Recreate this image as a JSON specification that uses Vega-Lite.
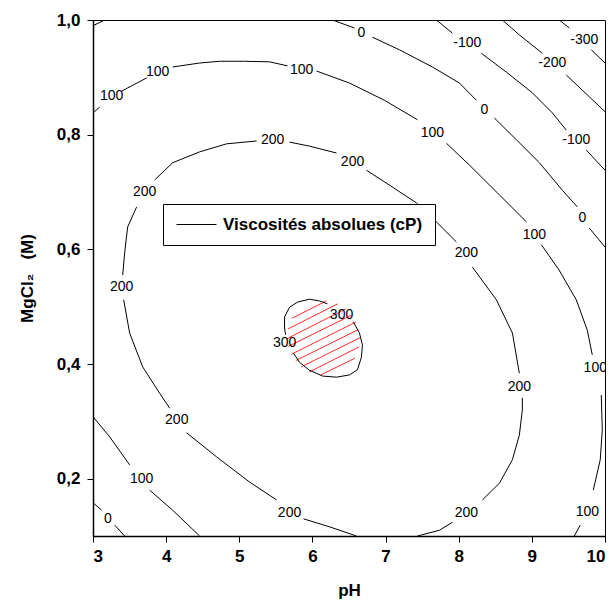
{
  "$schema": "https://vega.github.io/schema/vega-lite/v6.json",
  "width": 512,
  "height": 516,
  "autosize": {"type": "none"},
  "padding": {"left": 93, "top": 20, "right": 9, "bottom": 65},
  "background": "white",
  "config": {
    "font": "Liberation Sans",
    "view": {"stroke": "black", "strokeWidth": 1},
    "axis": {"domainColor": "black", "domainWidth": 1.5, "tickColor": "black", "labelColor": "black", "titleColor": "black", "grid": false, "tickSize": 6, "labelFontSize": 17, "labelFontWeight": "bold", "titleFontSize": 17, "titleFontWeight": "bold"}
  },
  "datasets": {
    "lines": [
      {"s":"c0","pH":3.0,"M":0.990},{"s":"c0","pH":3.160,"M":1.0},
      {"s":"a1","pH":3.0,"M":0.838},{"s":"a1","pH":3.092,"M":0.848},
      {"s":"a2","pH":3.392,"M":0.876},{"s":"a2","pH":3.734,"M":0.899},
      {"s":"a3","pH":4.089,"M":0.918},{"s":"a3","pH":4.458,"M":0.925},{"s":"a3","pH":4.731,"M":0.928},{"s":"a3","pH":5.072,"M":0.928},{"s":"a3","pH":5.414,"M":0.927},{"s":"a3","pH":5.660,"M":0.920},
      {"s":"a4","pH":6.056,"M":0.911},{"s":"a4","pH":6.507,"M":0.890},{"s":"a4","pH":6.985,"M":0.860},{"s":"a4","pH":7.436,"M":0.826},
      {"s":"a5","pH":7.832,"M":0.785},{"s":"a5","pH":8.146,"M":0.747},{"s":"a5","pH":8.556,"M":0.695},{"s":"a5","pH":8.925,"M":0.648},
      {"s":"a6","pH":9.130,"M":0.608},{"s":"a6","pH":9.372,"M":0.564},{"s":"a6","pH":9.607,"M":0.512},{"s":"a6","pH":9.758,"M":0.459},{"s":"a6","pH":9.826,"M":0.416},
      {"s":"a7","pH":9.949,"M":0.346},{"s":"a7","pH":9.963,"M":0.285},{"s":"a7","pH":9.935,"M":0.233},{"s":"a7","pH":9.840,"M":0.180},
      {"s":"a8","pH":9.662,"M":0.119},{"s":"a8","pH":9.580,"M":0.100},
      {"s":"b1","pH":7.436,"M":0.100},{"s":"b1","pH":7.736,"M":0.110},{"s":"b1","pH":7.914,"M":0.124},
      {"s":"b2","pH":8.324,"M":0.163},{"s":"b2","pH":8.556,"M":0.192},{"s":"b2","pH":8.734,"M":0.233},{"s":"b2","pH":8.829,"M":0.276},{"s":"b2","pH":8.870,"M":0.320},{"s":"b2","pH":8.870,"M":0.341},
      {"s":"b3","pH":8.829,"M":0.384},{"s":"b3","pH":8.734,"M":0.454},{"s":"b3","pH":8.515,"M":0.512},{"s":"b3","pH":8.187,"M":0.569},
      {"s":"b4","pH":7.968,"M":0.613},{"s":"b4","pH":7.709,"M":0.646},{"s":"b4","pH":7.422,"M":0.681},{"s":"b4","pH":7.053,"M":0.712},{"s":"b4","pH":6.739,"M":0.738},
      {"s":"b5","pH":6.329,"M":0.768},{"s":"b5","pH":5.960,"M":0.780},{"s":"b5","pH":5.687,"M":0.787},
      {"s":"b6","pH":5.236,"M":0.789},{"s":"b6","pH":4.826,"M":0.784},{"s":"b6","pH":4.458,"M":0.770},{"s":"b6","pH":4.089,"M":0.751},{"s":"b6","pH":3.843,"M":0.721},
      {"s":"b7","pH":3.597,"M":0.674},{"s":"b7","pH":3.474,"M":0.639},{"s":"b7","pH":3.433,"M":0.594},{"s":"b7","pH":3.406,"M":0.555},
      {"s":"b8","pH":3.419,"M":0.512},{"s":"b8","pH":3.501,"M":0.454},{"s":"b8","pH":3.679,"M":0.395},{"s":"b8","pH":3.911,"M":0.349},{"s":"b8","pH":4.048,"M":0.323},
      {"s":"b9","pH":4.280,"M":0.280},{"s":"b9","pH":4.690,"M":0.238},{"s":"b9","pH":5.141,"M":0.194},{"s":"b9","pH":5.510,"M":0.163},
      {"s":"b10","pH":5.878,"M":0.130},{"s":"b10","pH":6.234,"M":0.116},{"s":"b10","pH":6.602,"M":0.100},
      {"s":"d1","pH":3.0,"M":0.308},{"s":"d1","pH":3.228,"M":0.273},{"s":"d1","pH":3.501,"M":0.224},
      {"s":"d2","pH":3.775,"M":0.180},{"s":"d2","pH":4.089,"M":0.145},{"s":"d2","pH":4.458,"M":0.100},
      {"s":"e1","pH":3.0,"M":0.158},{"s":"e1","pH":3.119,"M":0.145},
      {"s":"e2","pH":3.296,"M":0.119},{"s":"e2","pH":3.433,"M":0.100},
      {"s":"f1","pH":6.275,"M":1.0},{"s":"f1","pH":6.575,"M":0.986},
      {"s":"f2","pH":6.821,"M":0.970},{"s":"f2","pH":7.190,"M":0.948},{"s":"f2","pH":7.641,"M":0.918},{"s":"f2","pH":8.010,"M":0.890},{"s":"f2","pH":8.242,"M":0.860},
      {"s":"f3","pH":8.488,"M":0.829},{"s":"f3","pH":8.789,"M":0.791},{"s":"f3","pH":9.103,"M":0.751},{"s":"f3","pH":9.417,"M":0.703},{"s":"f3","pH":9.622,"M":0.674},
      {"s":"f4","pH":9.786,"M":0.637},{"s":"f4","pH":10.0,"M":0.604},
      {"s":"g1","pH":7.695,"M":1.0},{"s":"g1","pH":7.914,"M":0.977},
      {"s":"g2","pH":8.310,"M":0.942},{"s":"g2","pH":8.652,"M":0.909},{"s":"g2","pH":9.007,"M":0.873},{"s":"g2","pH":9.280,"M":0.838},{"s":"g2","pH":9.471,"M":0.808},
      {"s":"g3","pH":9.745,"M":0.773},{"s":"g3","pH":10.0,"M":0.738},
      {"s":"h1","pH":8.597,"M":1.0},{"s":"h1","pH":8.829,"M":0.974},{"s":"h1","pH":9.143,"M":0.942},
      {"s":"h2","pH":9.471,"M":0.904},{"s":"h2","pH":9.786,"M":0.866},{"s":"h2","pH":10.0,"M":0.840},
      {"s":"k1","pH":9.375,"M":1.0},{"s":"k1","pH":9.512,"M":0.986},
      {"s":"k2","pH":9.813,"M":0.948},{"s":"k2","pH":10.0,"M":0.925},
      {"s":"m1","pH":5.633,"M":0.451},{"s":"m1","pH":5.619,"M":0.463},{"s":"m1","pH":5.619,"M":0.482},{"s":"m1","pH":5.687,"M":0.499},{"s":"m1","pH":5.796,"M":0.508},{"s":"m1","pH":5.960,"M":0.513},{"s":"m1","pH":6.097,"M":0.510},{"s":"m1","pH":6.206,"M":0.505},
      {"s":"m2","pH":6.561,"M":0.473},{"s":"m2","pH":6.643,"M":0.454},{"s":"m2","pH":6.684,"M":0.433},{"s":"m2","pH":6.670,"M":0.412},{"s":"m2","pH":6.616,"M":0.390},{"s":"m2","pH":6.507,"M":0.381},{"s":"m2","pH":6.329,"M":0.377},{"s":"m2","pH":6.138,"M":0.379},{"s":"m2","pH":5.960,"M":0.389},{"s":"m2","pH":5.823,"M":0.403},{"s":"m2","pH":5.741,"M":0.419}
    ],
    "hatch": [
      {"s":"1","pH":5.724,"M":0.480},{"s":"1","pH":6.189,"M":0.510},
      {"s":"2","pH":5.664,"M":0.461},{"s":"2","pH":6.347,"M":0.505},
      {"s":"3","pH":5.650,"M":0.444},{"s":"3","pH":6.456,"M":0.496},
      {"s":"4","pH":5.675,"M":0.431},{"s":"4","pH":6.530,"M":0.485},
      {"s":"5","pH":5.712,"M":0.417},{"s":"5","pH":6.592,"M":0.473},
      {"s":"6","pH":5.773,"M":0.406},{"s":"6","pH":6.628,"M":0.460},
      {"s":"7","pH":5.847,"M":0.395},{"s":"7","pH":6.653,"M":0.446},
      {"s":"8","pH":5.956,"M":0.386},{"s":"8","pH":6.639,"M":0.430},
      {"s":"9","pH":6.115,"M":0.381},{"s":"9","pH":6.579,"M":0.410}
    ],
    "labels": [
      {"t":"100","pH":3.255,"M":0.867},{"t":"100","pH":3.884,"M":0.909},{"t":"100","pH":5.852,"M":0.913},{"t":"100","pH":7.641,"M":0.803},{"t":"100","pH":9.034,"M":0.625},{"t":"100","pH":9.867,"M":0.393},{"t":"100","pH":9.758,"M":0.142},{"t":"100","pH":3.666,"M":0.199},
      {"t":"200","pH":8.105,"M":0.140},{"t":"200","pH":8.829,"M":0.360},{"t":"200","pH":8.105,"M":0.594},{"t":"200","pH":6.548,"M":0.752},{"t":"200","pH":5.455,"M":0.791},{"t":"200","pH":3.707,"M":0.700},{"t":"200","pH":3.392,"M":0.534},{"t":"200","pH":4.145,"M":0.302},{"t":"200","pH":5.687,"M":0.140},
      {"t":"0","pH":3.202,"M":0.130},{"t":"0","pH":6.671,"M":0.977},{"t":"0","pH":8.352,"M":0.843},{"t":"0","pH":9.690,"M":0.655},
      {"t":"-100","pH":8.118,"M":0.960},{"t":"-100","pH":9.608,"M":0.791},
      {"t":"-200","pH":9.280,"M":0.925},
      {"t":"-300","pH":9.717,"M":0.965},
      {"t":"300","pH":5.619,"M":0.437},{"t":"300","pH":6.398,"M":0.485}
    ]
  },
  "encoding": {
    "x": {"field": "pH", "type": "quantitative", "scale": {"domain": [3, 10], "nice": false, "zero": false}, "axis": {"values": [3,4,5,6,7,8,9,10], "format": "d", "title": "pH", "labelPadding": 6, "titlePadding": 18}},
    "y": {"field": "M", "type": "quantitative", "scale": {"domain": [0.1, 1.0], "nice": false, "zero": false}, "axis": {"values": [0.2,0.4,0.6,0.8,1.0], "labelExpr": "replace(format(datum.value, '.1f'), '.', ',')", "title": "MgCl\u2082\u00a0\u00a0\u00a0(M)", "labelPadding": 7, "titlePadding": 20}}
  },
  "layer": [
    {
      "data": {"name": "hatch"},
      "mark": {"type": "line", "color": "#ff2a2a", "strokeWidth": 1, "clip": true},
      "encoding": {"detail": {"field": "s"}, "order": {"value": null}}
    },
    {
      "data": {"name": "lines"},
      "mark": {"type": "line", "strokeWidth": 1, "clip": true},
      "encoding": {
        "detail": {"field": "s"},
        "order": {"value": null},
        "stroke": {"datum": "Viscosités absolues (cP)", "type": "nominal", "scale": {"range": ["black"]},
          "legend": {"orient": "none", "legendX": 70, "legendY": 184, "title": null, "padding": 12, "strokeColor": "black", "fillColor": "white", "cornerRadius": 0, "symbolType": "M-1,0H4.71", "symbolSize": 196, "symbolStrokeWidth": 1, "symbolStrokeColor": "black", "symbolFillColor": "transparent", "labelFontSize": 17, "labelFontWeight": "bold", "labelOffset": 31, "labelColor": "black", "labelLimit": 400}}
      }
    },
    {
      "data": {"name": "labels"},
      "mark": {"type": "text", "fontSize": 14, "color": "black", "clip": true},
      "encoding": {"text": {"field": "t"}}
    }
  ]
}
